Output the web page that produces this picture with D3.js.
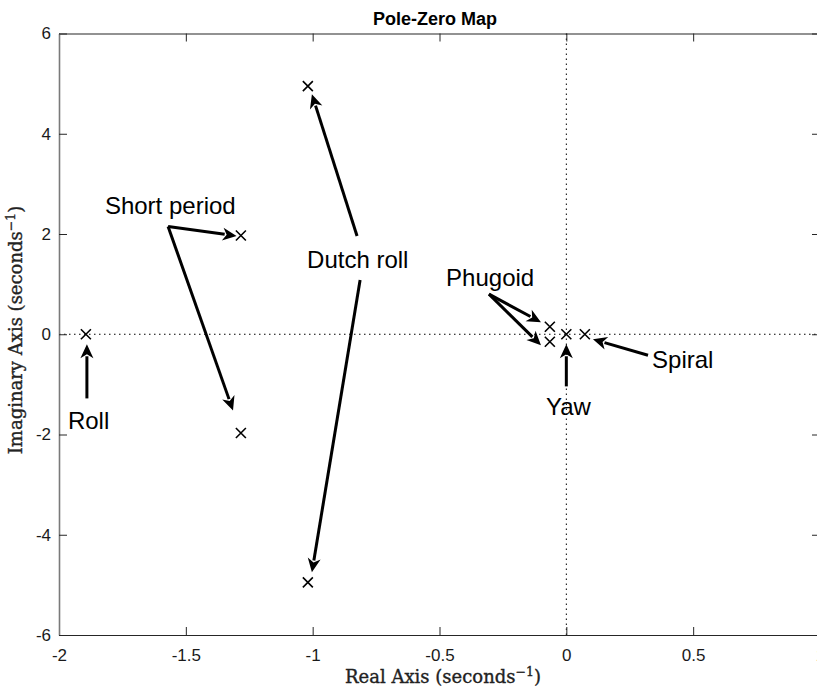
<!DOCTYPE html>
<html><head><meta charset="utf-8">
<script src="https://cdn.jsdelivr.net/npm/d3@7"></script>
<style>body{margin:0;background:#fff}svg{display:block}</style>
</head><body>
<script>
// ---- data ----
const poleNames = ["Roll","Short period","Short period","Dutch roll","Dutch roll","Phugoid","Phugoid","Yaw","Spiral"];
const poleRe = [-1.894, -1.283, -1.283, -1.019, -1.019, -0.065, -0.065, 0.0, 0.073];
const poleIm = [0, 1.97, -1.97, 4.95, -4.95, 0.15, -0.15, 0, 0];
const xTicks = [-2, -1.5, -1, -0.5, 0, 0.5, 1];
const yTicks = [-6, -4, -2, 0, 2, 4, 6];
// annotation labels (data units) and arrows (tail -> head, data units)
const labelText = ["Short period","Dutch roll","Phugoid","Spiral","Yaw","Roll"];
const labelX = [-1.819, -1.022, -0.474, 0.338, -0.08, -1.965];
const labelY = [2.39, 1.32, 0.96, -0.68, -1.62, -1.90];
const arrowX1 = [-1.89, -1.57, -1.57, -0.825, -0.813, -0.305, -0.305, 0.0, 0.322];
const arrowY1 = [-1.28, 2.15, 2.15, 1.96, 1.08, 0.80, 0.80, -1.04, -0.42];
const arrowX2 = [-1.89, -1.30, -1.314, -1.003, -1.003, -0.100, -0.100, 0.0, 0.105];
const arrowY2 = [-0.20, 1.96, -1.52, 4.79, -4.75, 0.24, -0.22, -0.20, -0.10];

const W = 817, H = 689;
const m = {left: 59, top: 33.5, right: 820, bottom: 635};
const svg = d3.select("body").append("svg").attr("width", W).attr("height", H);
const x = d3.scaleLinear().domain([-2, 1]).range([m.left, m.right]);
const y = d3.scaleLinear().domain([-6, 6]).range([m.bottom, m.top]);
const fmt = d => String(d);

// zero lines
svg.append("line").attr("x1", x(-2)).attr("x2", x(1)).attr("y1", y(0)).attr("y2", y(0))
  .attr("stroke", "#000").attr("stroke-width", 1).attr("stroke-dasharray", "1.5,3.5");
svg.append("line").attr("x1", x(0)).attr("x2", x(0)).attr("y1", y(-6)).attr("y2", y(6))
  .attr("stroke", "#000").attr("stroke-width", 1).attr("stroke-dasharray", "1.5,3.5");

// axes (inward ticks, MATLAB style)
const tickFont = "Liberation Sans, Arial, Helvetica, sans-serif";
const axB = svg.append("g").attr("transform", `translate(0,${m.bottom})`)
  .call(d3.axisBottom(x).tickValues(xTicks).tickSizeInner(-8).tickSizeOuter(0).tickPadding(14).tickFormat(fmt));
const axT = svg.append("g").attr("transform", `translate(0,${m.top})`)
  .call(d3.axisTop(x).tickValues(xTicks).tickSizeInner(-8).tickSizeOuter(0).tickFormat(""));
const axL = svg.append("g").attr("transform", `translate(${m.left},0)`)
  .call(d3.axisLeft(y).tickValues(yTicks).tickSizeInner(-8).tickSizeOuter(0).tickPadding(8).tickFormat(fmt));
const axR = svg.append("g").attr("transform", `translate(${m.right},0)`)
  .call(d3.axisRight(y).tickValues(yTicks).tickSizeInner(-8).tickSizeOuter(0).tickFormat(""));
[axB, axT, axL, axR].forEach(a => {
  a.selectAll("path.domain").attr("stroke", "#262626").attr("stroke-width", 1.2);
  a.selectAll(".tick line").attr("stroke", "#262626");
  a.selectAll("text").attr("font-family", tickFont).attr("font-size", 17).attr("fill", "#1a1a1a");
});
axL.select("path.domain").attr("stroke", "#7a7a7a").attr("stroke-width", 1.6);
axB.selectAll("text").attr("dy", "0.71em");

// poles (x marks)
const s = 5;
const pg = svg.append("g");
poleRe.forEach((re, i) => {
  const cx = x(re), cy = y(poleIm[i]);
  pg.append("path").attr("d", `M${cx - s},${cy - s}L${cx + s},${cy + s}M${cx - s},${cy + s}L${cx + s},${cy - s}`)
    .attr("stroke", "#000").attr("stroke-width", 1.6).attr("fill", "none");
});

// arrows
const ag = svg.append("g");
arrowX1.forEach((x1, i) => {
  const px1 = x(x1), py1 = y(arrowY1[i]), px2 = x(arrowX2[i]), py2 = y(arrowY2[i]);
  const dx = px2 - px1, dy = py2 - py1, L = Math.hypot(dx, dy);
  const ux = dx / L, uy = dy / L;
  const hl = 14, hw = 6.5;
  const bx = px2 - ux * hl, by = py2 - uy * hl;
  ag.append("line").attr("x1", px1).attr("y1", py1).attr("x2", bx + ux * 2).attr("y2", by + uy * 2)
    .attr("stroke", "#000").attr("stroke-width", 3);
  ag.append("path")
    .attr("d", `M${px2},${py2}L${bx - uy * hw},${by + ux * hw}L${bx + ux * 4},${by + uy * 4}L${bx + uy * hw},${by - ux * hw}Z`)
    .attr("fill", "#000");
});

// labels
labelText.forEach((t, i) => {
  svg.append("text").attr("x", x(labelX[i])).attr("y", y(labelY[i]))
    .attr("font-family", tickFont).attr("font-size", 24).attr("fill", "#000").text(t);
});

// title
svg.append("text").attr("x", 435).attr("y", 25).attr("text-anchor", "middle")
  .attr("font-family", tickFont).attr("font-weight", "bold").attr("font-size", 18).text("Pole-Zero Map");

// axis labels
const serif = "DejaVu Serif, Liberation Serif, serif";
const xl = svg.append("text").attr("x", 443).attr("y", 683).attr("text-anchor", "middle")
  .attr("font-family", serif).attr("font-size", 18).attr("fill", "#222")
  .attr("stroke", "#222").attr("stroke-width", 0.35);
xl.append("tspan").text("Real Axis (seconds");
xl.append("tspan").attr("font-size", 12.5).attr("dy", -7).text("\u22121");
xl.append("tspan").attr("dy", 7).text(")");

const yl = svg.append("text").attr("transform", "translate(22,330) rotate(-90)").attr("text-anchor", "middle")
  .attr("font-family", serif).attr("font-size", 18).attr("fill", "#222")
  .attr("stroke", "#222").attr("stroke-width", 0.35);
yl.append("tspan").text("Imaginary Axis (seconds");
yl.append("tspan").attr("font-size", 12.5).attr("dy", -7).text("\u22121");
yl.append("tspan").attr("dy", 7).text(")");
</script>
</body></html>
